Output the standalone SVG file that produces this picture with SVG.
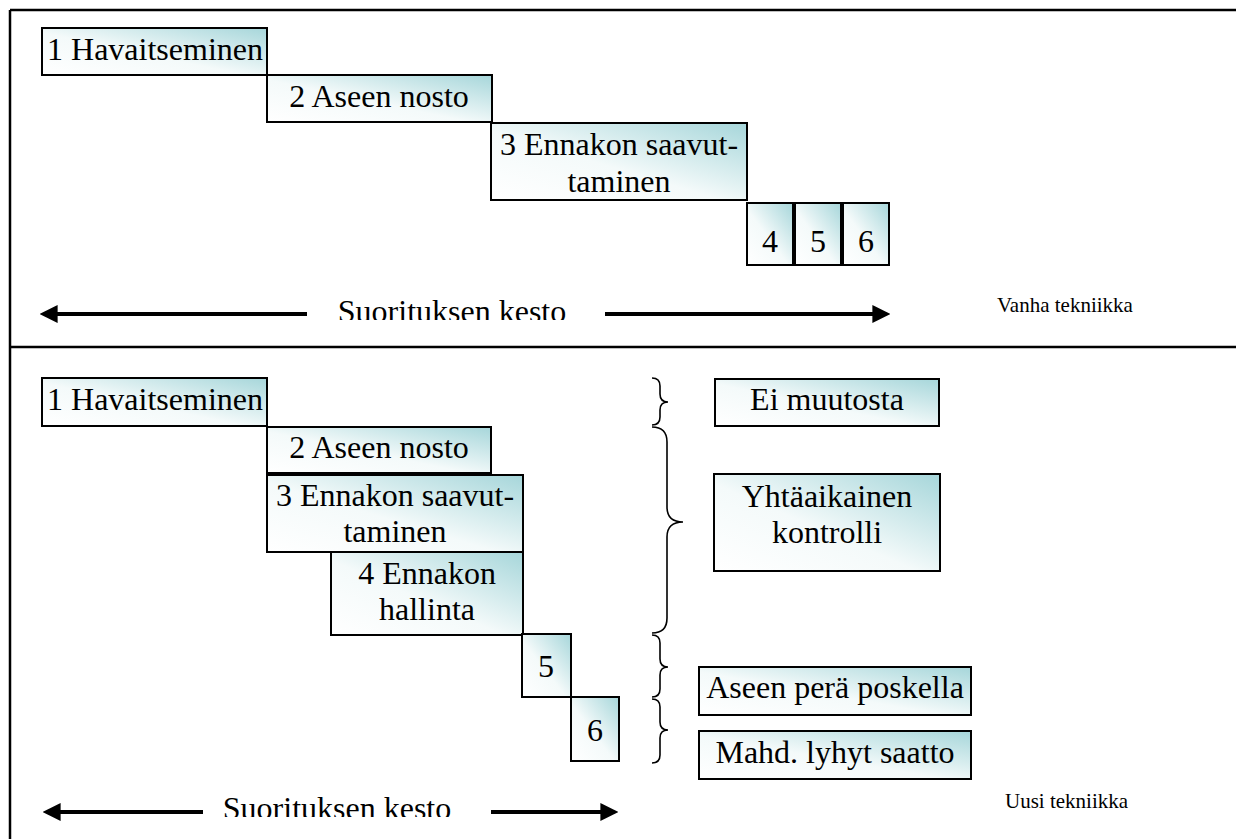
<svg xmlns="http://www.w3.org/2000/svg" width="1236" height="839" viewBox="0 0 1236 839">
<style>
  text { font-family: "Liberation Serif", "Times New Roman", serif; fill: #000; }
  .lbl { font-size: 32px; text-anchor: middle; }
  .small { font-size: 21px; }
  .box { fill: url(#grad); stroke: #000; stroke-width: 2; }
  .frame { stroke: #000; stroke-width: 2.5; fill: none; }
  .arrow { stroke: #000; stroke-width: 4; fill: none; }
  .brace { stroke: #000; stroke-width: 1.6; fill: none; }
</style>
<defs>
  <linearGradient id="grad" x1="1" y1="0" x2="0" y2="1">
    <stop offset="0" stop-color="#a6d6da"/>
    <stop offset="0.55" stop-color="#f4fafa"/>
    <stop offset="1" stop-color="#ffffff"/>
  </linearGradient>
  <marker id="ah" viewBox="0 0 10 10" refX="2" refY="5" markerWidth="4.5" markerHeight="4.5" orient="auto-start-reverse" markerUnits="strokeWidth">
    <path d="M0,0 L10,5 L0,10 z" fill="#000"/>
  </marker>
  <clipPath id="clipTop"><rect x="0" y="280" width="1236" height="40"/></clipPath>
  <clipPath id="clipBot"><rect x="0" y="780" width="1236" height="37"/></clipPath>
</defs>
<rect x="0" y="0" width="1236" height="839" fill="#fff"/>

<g id="frame">
  <line class="frame" x1="10" y1="10" x2="1236" y2="10"/>
  <line class="frame" x1="10" y1="10" x2="10" y2="839"/>
  <line class="frame" x1="10" y1="347" x2="1236" y2="347"/>
</g>

<!-- Top: Vanha tekniikka -->
<g id="old-1"><rect class="box" x="42" y="28" width="225" height="47"/><text class="lbl" x="155" y="60">1 Havaitseminen</text></g>
<g id="old-2"><rect class="box" x="267" y="75" width="225" height="47"/><text class="lbl" x="379" y="107">2 Aseen nosto</text></g>
<g id="old-3"><rect class="box" x="491" y="123" width="256" height="77"/><text class="lbl" x="619" y="155">3 Ennakon saavut-</text><text class="lbl" x="619" y="192">taminen</text></g>
<g id="old-4"><rect class="box" x="747" y="203" width="46" height="62"/><text class="lbl" x="770" y="252">4</text></g>
<g id="old-5"><rect class="box" x="795" y="203" width="46" height="62"/><text class="lbl" x="818" y="252">5</text></g>
<g id="old-6"><rect class="box" x="843" y="203" width="46" height="62"/><text class="lbl" x="866" y="252">6</text></g>
<g id="old-duration"><text class="lbl" x="452" y="322" clip-path="url(#clipTop)">Suorituksen kesto</text></g>
<g id="old-title"><text class="small" x="997" y="312">Vanha tekniikka</text></g>

<!-- Bottom: Uusi tekniikka -->
<g id="new-1"><rect class="box" x="42" y="378" width="225" height="48"/><text class="lbl" x="155" y="410">1 Havaitseminen</text></g>
<g id="new-2"><rect class="box" x="267" y="427" width="224" height="46"/><text class="lbl" x="379" y="458">2 Aseen nosto</text></g>
<g id="new-3"><rect class="box" x="267" y="475" width="256" height="77"/><text class="lbl" x="395" y="506">3 Ennakon saavut-</text><text class="lbl" x="395" y="542">taminen</text></g>
<g id="new-4"><rect class="box" x="331" y="552" width="192" height="83"/><text class="lbl" x="427" y="584">4 Ennakon</text><text class="lbl" x="427" y="620">hallinta</text></g>
<g id="new-5"><rect class="box" x="522" y="634" width="49" height="63"/><text class="lbl" x="546" y="677">5</text></g>
<g id="new-6"><rect class="box" x="571" y="697" width="48" height="64"/><text class="lbl" x="595" y="741">6</text></g>
<g id="note-1"><rect class="box" x="715" y="379" width="224" height="47"/><text class="lbl" x="827" y="410">Ei muutosta</text></g>
<g id="note-2"><rect class="box" x="714" y="474" width="226" height="97"/><text class="lbl" x="827" y="507">Yhtäaikainen</text><text class="lbl" x="827" y="543">kontrolli</text></g>
<g id="note-3"><rect class="box" x="699" y="667" width="272" height="48"/><text class="lbl" x="835" y="698">Aseen perä poskella</text></g>
<g id="note-4"><rect class="box" x="699" y="731" width="272" height="48"/><text class="lbl" x="835" y="763">Mahd. lyhyt saatto</text></g>
<g id="new-duration"><text class="lbl" x="337" y="819" clip-path="url(#clipBot)">Suorituksen kesto</text></g>
<g id="new-title"><text class="small" x="1005" y="808">Uusi tekniikka</text></g>

<g id="connectors">
  <line class="arrow" x1="307" y1="314" x2="54" y2="314" marker-end="url(#ah)"/>
  <line class="arrow" x1="605" y1="314" x2="876" y2="314" marker-end="url(#ah)"/>
  <line class="arrow" x1="203" y1="812" x2="57" y2="812" marker-end="url(#ah)"/>
  <line class="arrow" x1="491" y1="812" x2="604" y2="812" marker-end="url(#ah)"/>
  <path class="brace" d="M652,378 Q660,378 660,386 L660,394 Q660,402 668,402 Q660,402 660,410 L660,417 Q660,425 652,425"/>
  <path class="brace" d="M652,427 Q667,427 667,442 L667,507 Q667,522 683,522 Q667,522 667,537 L667,618 Q667,633 652,633"/>
  <path class="brace" d="M652,635 Q660,635 660,643 L660,659 Q660,667 668,667 Q660,667 660,675 L660,689 Q660,697 652,697"/>
  <path class="brace" d="M652,699 Q660,699 660,707 L660,722 Q660,730 668,730 Q660,730 660,738 L660,755 Q660,763 652,763"/>
</g>
</svg>
